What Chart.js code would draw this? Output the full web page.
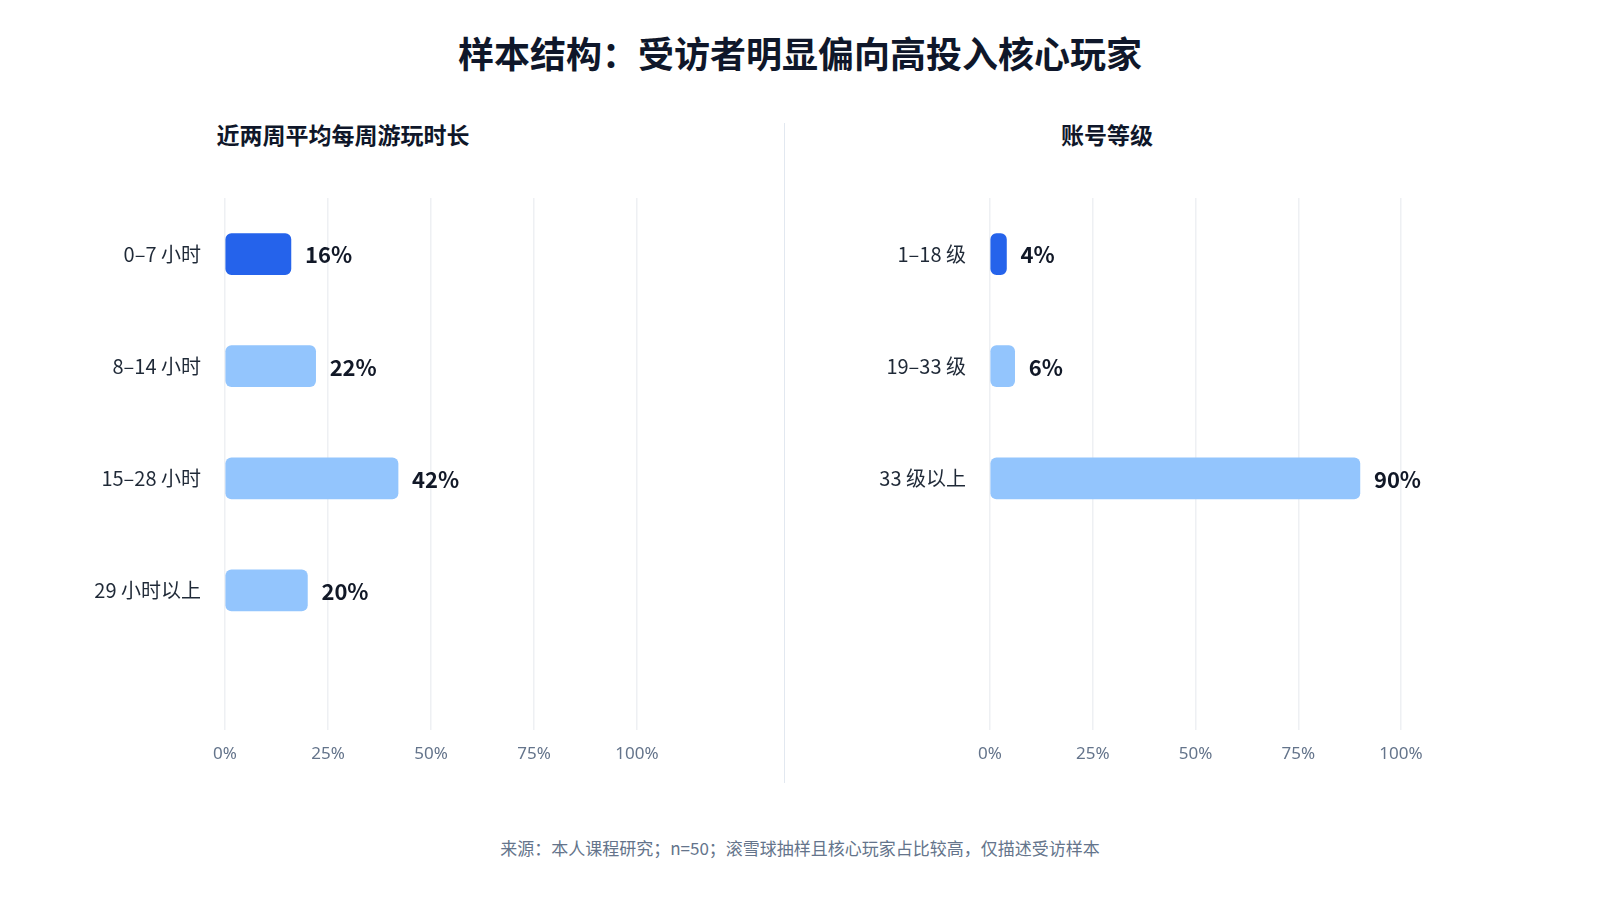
<!DOCTYPE html>
<html><head><meta charset="utf-8">
<script src="https://cdn.jsdelivr.net/npm/chart.js@4"></script>
<style>
body{margin:0;width:1600px;height:900px;background:#fff;font-family:"Noto Sans CJK SC","Noto Sans",sans-serif;position:relative;overflow:hidden}
.t{position:absolute;left:0;width:1600px;text-align:center;font-weight:700;color:#0f172a}
canvas{position:absolute}
</style></head><body>
<div class="t" style="top:26px;font-size:36px">样本结构：受访者明显偏向高投入核心玩家</div>
<div class="t" style="top:117px;font-size:23px;left:0;width:686px">近两周平均每周游玩时长</div>
<div class="t" style="top:117px;font-size:23px;left:784px;width:646px">账号等级</div>
<div style="position:absolute;left:784px;top:123px;width:1px;height:660px;background:#e2e8f0"></div>
<div class="t" style="top:835px;font-size:17px;font-weight:400;color:#64748b">来源：本人课程研究；n=50；滚雪球抽样且核心玩家占比较高，仅描述受访样本</div>
<div style="position:absolute;left:0;top:170px;width:784px;height:620px"><canvas id="c1"></canvas></div>
<div style="position:absolute;left:784px;top:170px;width:816px;height:620px"><canvas id="c2"></canvas></div>
<script>
const hoursLabels=["0–7 小时","8–14 小时","15–28 小时","29 小时以上"];
const hoursValues=[16,22,42,20];
const levelLabels=["1–18 级","19–33 级","33 级以上"];
const levelValues=[4,6,90];
const xTicks=[0,25,50,75,100];
const valLabels={id:'vl',afterDatasetsDraw(ch){const c=ch.ctx;const m=ch.getDatasetMeta(0);c.save();c.font='700 22px "Noto Sans CJK SC","Noto Sans",sans-serif';c.fillStyle='#111827';c.textBaseline='middle';m.data.forEach((b,i)=>{c.fillText(ch.data.datasets[0].data[i].x+'%',b.x+14,b.y+1);});c.restore();}};
function make(id,labels,values,yw,pr){
 new Chart(document.getElementById(id),{type:'bar',
  data:{datasets:[{data:values.map((v,i)=>({x:v,y:i})),backgroundColor:values.map((v,i)=>i===0?'#2563eb':'#93c5fd'),barThickness:41,borderRadius:6,borderSkipped:false}]},
  options:{indexAxis:'y',responsive:true,maintainAspectRatio:false,animation:false,
   layout:{padding:{top:12,right:pr,left:0,bottom:0}},
   plugins:{legend:{display:false},tooltip:{enabled:false}},
   scales:{
    x:{type:'linear',min:0,max:100,bounds:'data',afterBuildTicks:s=>{s.ticks=xTicks.map(v=>({value:v}));},
      ticks:{callback:v=>v+'%',color:'#64748b',font:{size:17,family:'"Noto Sans","Noto Sans CJK SC"'},padding:14},
      grid:{color:'#eef0f3',lineWidth:1.5,drawTicks:false},border:{display:false},afterFit:s=>{s.height=60;}},
    y:{type:'linear',reverse:true,bounds:'data',min:-0.5,max:(548/115.5)-0.5,offset:false,
      afterDataLimits:s=>{s.min=-0.5;s.max=(548/115.5)-0.5;},
      afterBuildTicks:s=>{s.ticks=labels.map((l,i)=>({value:i}));},
      ticks:{callback:v=>labels[v]||'',color:'#1f2937',font:{size:20,family:'"Noto Sans CJK SC","Noto Sans",sans-serif'},padding:16},
      grid:{display:false},border:{display:false},afterFit:s=>{s.width=yw;}}
   }},plugins:[valLabels]});
}
make('c1',hoursLabels,hoursValues,225,147);
make('c2',levelLabels,levelValues,206,199);
</script></body></html>
